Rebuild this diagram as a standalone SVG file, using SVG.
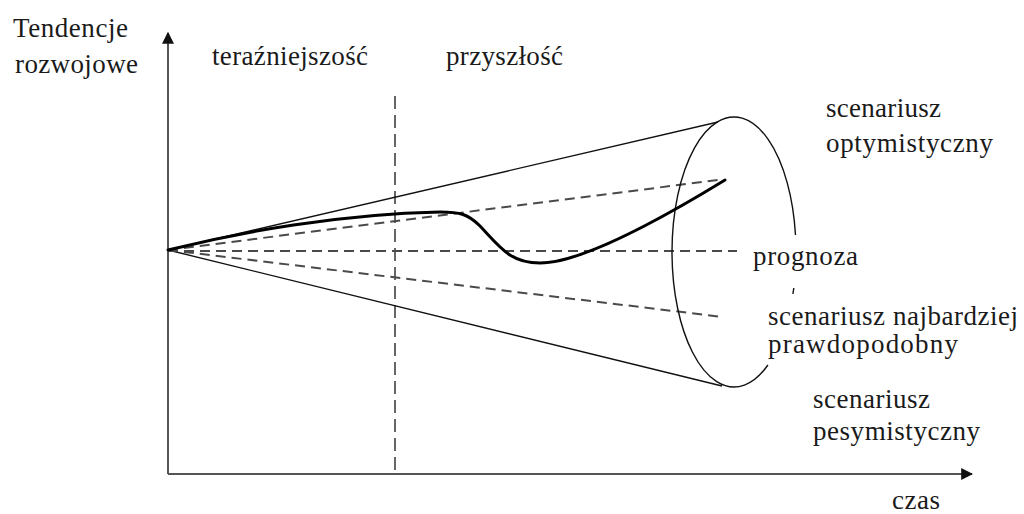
<svg xmlns="http://www.w3.org/2000/svg" width="1024" height="514" viewBox="0 0 1024 514">
<defs>
<marker id="arr" viewBox="0 0 10 10" refX="9" refY="5" markerWidth="12" markerHeight="12" markerUnits="userSpaceOnUse" orient="auto">
<path d="M0,0 L10,5 L0,10 Z" fill="#111"/>
</marker>
</defs>
<style>
text{font-family:"Liberation Serif","Times New Roman",serif;font-size:27px;fill:#1a1a1a}
.axis{stroke:#555;stroke-width:2;fill:none}
.cone{stroke:#111;stroke-width:1.4;fill:none}
.dash{stroke:#4a4a4a;stroke-width:2;fill:none;stroke-dasharray:10 6}
.vdash{stroke:#666;stroke-width:2;fill:none;stroke-dasharray:13 6}
.curve{stroke:#000;stroke-width:3;fill:none;stroke-linecap:round}
</style>
<rect width="1024" height="514" fill="#fff"/>
<g id="connectors">
<line id="y-axis" class="axis" x1="168" y1="474" x2="168" y2="33" marker-end="url(#arr)"/>
<line id="x-axis" class="axis" x1="168" y1="474" x2="972" y2="474" marker-end="url(#arr)"/>
<line id="divider" class="vdash" x1="395" y1="96" x2="395" y2="470"/>
<line class="cone" x1="168" y1="250" x2="718" y2="122"/>
<line class="cone" x1="168" y1="250" x2="722" y2="386"/>
<line class="dash" x1="168" y1="250" x2="718" y2="180"/>
<line class="dash" x1="168" y1="251" x2="737" y2="251"/>
<line class="dash" x1="168" y1="250" x2="723" y2="317"/>
<path id="ellipse" class="cone" d="M795.5,235 A62,135 0 1 0 767.9,365 M793.8,288 A62,135 0 0 1 792.9,294"/>
<path id="trend" class="curve" d="M168,250 C240,232 340,214 440,212 C460,212 468,214 480,226 C500,247 510,263 540,263 C575,263 640,232 725,180"/>
</g>
<g id="label-y"><text x="13" y="37" textLength="115">Tendencje</text><text x="15" y="73" textLength="123">rozwojowe</text></g>
<g id="label-present"><text x="212" y="65" textLength="156">teraźniejszość</text></g>
<g id="label-future"><text x="446" y="65" textLength="117">przyszłość</text></g>
<g id="label-optimistic"><text x="826" y="117" textLength="115">scenariusz</text><text x="826" y="152" textLength="167">optymistyczny</text></g>
<g id="label-forecast"><text x="753" y="265" textLength="105">prognoza</text></g>
<g id="label-likely"><text x="768" y="325" textLength="250">scenariusz najbardziej</text><text x="768" y="353" textLength="190">prawdopodobny</text></g>
<g id="label-pessimistic"><text x="813" y="408" textLength="117">scenariusz</text><text x="813" y="440" textLength="167">pesymistyczny</text></g>
<g id="label-x"><text x="892" y="509" textLength="48">czas</text></g>
</svg>
